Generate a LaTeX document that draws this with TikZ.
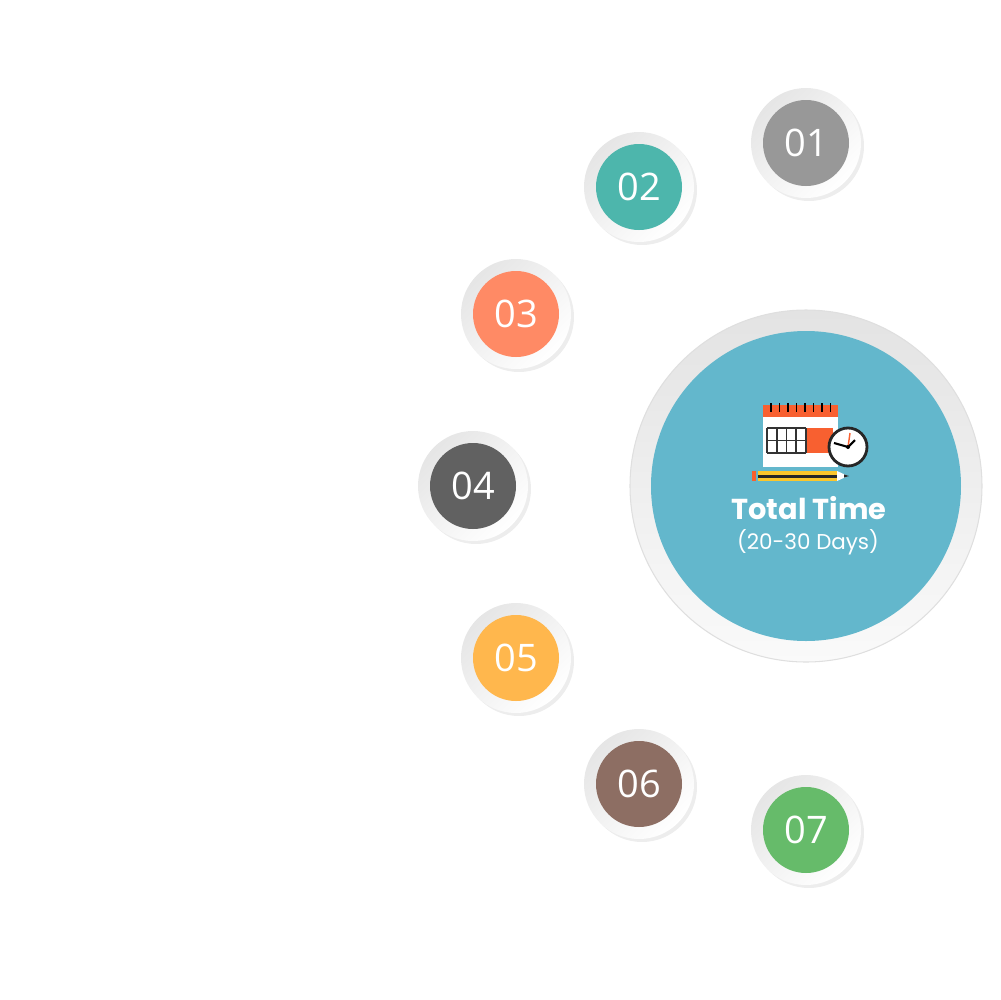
\documentclass[tikz,border=0pt]{standalone}
\usepackage{fontspec}
\setmainfont{Open Sans}
\newfontfamily\titlefont{Poppins}
\usetikzlibrary{shadows}

\definecolor{bigblue}{HTML}{63B7CC}
\definecolor{cgray}{HTML}{989898}
\definecolor{cteal}{HTML}{4DB6AC}
\definecolor{ccoral}{HTML}{FF8A65}
\definecolor{cdark}{HTML}{616161}
\definecolor{camber}{HTML}{FFB74D}
\definecolor{cbrown}{HTML}{8D6E63}
\definecolor{cgreen}{HTML}{66BB6A}
\definecolor{calorange}{HTML}{F86030}
\definecolor{pencilyellow}{HTML}{FCC62A}

\tikzset{
  stepring/.style={circle, minimum size=11mm, inner sep=0pt,
    top color=gray!20, bottom color=white, shading angle=45,
    drop shadow={shadow xshift=0.3mm, shadow yshift=-0.3mm, opacity=0.07, fill=black}},
  stepdot/.style={circle, minimum size=8.6mm, inner sep=0pt, text=white,
    font=\fontsize{10.8}{12}\selectfont},
}

\begin{document}
\begin{tikzpicture}[x=0.1mm, y=-0.1mm]
  \useasboundingbox (0,0) rectangle (1000,1000);

  % Big circle
  \node[circle, minimum size=35.2mm, inner sep=0pt, draw=gray!25, line width=0.3pt,
        top color=gray!22, bottom color=gray!4] (ring) at (806,486) {};
  \node[circle, minimum size=31mm, inner sep=0pt, fill=bigblue] (total) at (ring) {};

  % Steps
  \foreach \n/\x/\y/\c in {01/806/143/cgray, 02/639/187/cteal, 03/516/314/ccoral,
      04/473/486/cdark, 05/516/658/camber, 06/639/784/cbrown, 07/806/830/cgreen}{
    \node[stepring] (ring\n) at (\x,\y) {};
    \node[stepdot, fill=\c] (step\n) at (ring\n) {\n};
  }

  % Calendar
  \fill[white] (763,405) rectangle (838,467);
  \fill[calorange] (763,405) rectangle (838,417);
  \foreach \x in {771,779.5,788,796.5,805,813.5,822,830.5}
    \draw[black, line width=0.5pt] (\x,403) -- (\x,412);
  \fill[calorange] (806,428) rectangle (833,453);
  \foreach \x in {767,776.75,786.5,796.25,806}
    \draw[black!80, line width=0.5pt] (\x,428) -- (\x,453);
  \foreach \y in {428,440.5,453}
    \draw[black!80, line width=0.5pt] (767,\y) -- (806,\y);

  % Clock
  \draw[draw=black!85, fill=white, line width=0.8pt] (848,447) circle (19);
  \draw[line width=0.6pt] (848,447) -- (834,443);
  \draw[line width=0.6pt] (848,447) -- (855,440);
  \draw[calorange, line width=0.4pt] (848,447) -- (850,433);
  \fill (848,447) circle (2);

  % Pencil
  \fill[calorange] (752,471) rectangle (756,481);
  \fill[pencilyellow] (758,471) rectangle (837,481);
  \fill[black!85] (758,474.5) rectangle (837,477.5);
  \fill[white] (837,471) -- (848,476) -- (837,481) -- cycle;
  \fill[black!85] (844,474.4) -- (849,476) -- (844,477.6) -- cycle;

  % Title
  \node[text=white, font=\titlefont\bfseries\fontsize{8.2}{10}\selectfont] (title) at (809,508) {Total Time};
  \node[text=white, font=\titlefont\fontsize{6.1}{8}\selectfont] (days) at (808,542) {(20-30 Days)};
\end{tikzpicture}
\end{document}
